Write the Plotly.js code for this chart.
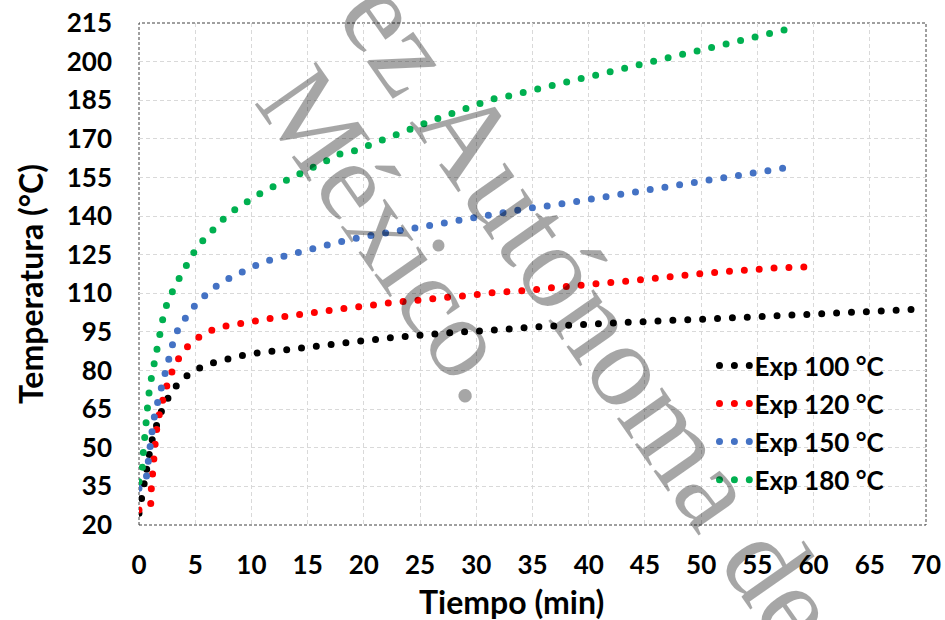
<!DOCTYPE html>
<html>
<head>
<meta charset="utf-8">
<script src="https://cdn.plot.ly/plotly-3.0.1.min.js"></script>
<style>
  html, body { margin: 0; padding: 0; background: #ffffff; }
  #chart { width: 945px; height: 620px; }
  /* round caps turn the zero-length dashes into round dots */
  path.js-line { stroke-linecap: round !important; }
</style>
</head>
<body>
<div id="chart"></div>
<script>
// Heating curves: time (min) and temperature (°C) for each experiment
const time100 = [0, 0.24, 0.51, 0.68, 0.86, 1.07, 1.42, 1.84, 2.37, 3.0, 3.85, 4.92, 6.11, 7.36, 8.65, 9.93, 11.23, 12.54, 13.81, 15.12, 17.76, 20.4, 23.0, 25.64, 28.26, 30.93, 33.53, 36.17, 38.81, 41.45, 44.05, 46.72, 49.39, 52.03, 54.7, 57.34, 59.97, 62.64, 65.29, 67.95, 69.26];
const temp100 = [24.6, 29.8, 35.3, 40.6, 46.1, 51.6, 57.2, 62.6, 67.7, 72.5, 76.7, 80.0, 82.5, 84.1, 85.3, 86.5, 87.2, 88.1, 88.7, 89.4, 90.7, 91.8, 93.0, 94.1, 94.9, 95.5, 96.5, 97.2, 97.7, 98.4, 98.9, 99.4, 99.8, 100.3, 101.1, 101.9, 102.1, 102.9, 103.2, 103.4, 103.8];

const time120 = [0, 1.04, 1.07, 1.16, 1.25, 1.33, 1.51, 1.69, 1.96, 2.29, 2.7, 3.18, 3.85, 4.71, 5.81, 7.0, 8.24, 9.52, 10.76, 12.0, 13.28, 14.5, 15.8, 17.05, 18.32, 19.6, 20.84, 22.15, 23.45, 24.7, 25.97, 27.28, 28.55, 29.86, 31.13, 32.44, 33.71, 34.98, 36.29, 37.56, 38.87, 40.14, 41.45, 42.7, 44.05, 45.36, 46.63, 47.91, 49.16, 50.43, 51.74, 53.01, 54.32, 55.59, 56.9, 58.17, 59.48];
const temp120 = [25.8, 27.3, 32.8, 38.5, 44.1, 49.7, 55.3, 60.8, 66.3, 71.7, 77.0, 82.2, 87.0, 91.1, 94.4, 96.7, 97.7, 98.8, 99.8, 100.5, 101.2, 102.0, 102.9, 104.0, 104.2, 104.8, 105.8, 106.2, 106.8, 107.2, 107.8, 108.5, 108.7, 109.4, 110.1, 110.4, 110.9, 111.3, 112.0, 112.4, 113.0, 113.6, 113.9, 114.6, 115.0, 115.6, 116.3, 116.9, 117.1, 117.8, 118.3, 118.5, 119.2, 119.5, 120.0, 120.2, 120.2];

const time150 = [0, 0.62, 0.77, 0.89, 1.0, 1.25, 1.49, 1.81, 2.11, 2.4, 2.73, 3.09, 3.58, 4.3, 5.16, 6.11, 7.14, 8.3, 9.45, 10.65, 11.89, 13.16, 14.47, 15.74, 17.05, 18.32, 19.66, 20.96, 22.24, 23.54, 24.84, 26.15, 27.46, 28.76, 30.09, 31.4, 32.7, 34.0, 35.31, 36.65, 37.95, 39.29, 40.59, 41.89, 43.23, 44.54, 45.87, 47.17, 48.5, 49.81, 51.14, 52.45, 53.75, 55.06, 56.39, 57.72];
const temp150 = [34.3, 37.2, 42.7, 48.4, 53.9, 59.4, 64.8, 70.3, 75.7, 81.1, 86.6, 91.9, 97.2, 101.9, 106.3, 110.1, 113.7, 116.5, 119.2, 121.3, 123.3, 124.8, 126.6, 127.9, 129.1, 130.5, 131.7, 132.7, 133.8, 134.7, 135.7, 136.7, 137.9, 138.7, 139.7, 140.8, 141.7, 142.4, 143.5, 144.1, 145.0, 145.8, 146.7, 147.6, 148.5, 149.4, 150.5, 151.3, 152.3, 153.2, 154.1, 155.0, 155.9, 156.9, 157.9, 158.9];

const time180 = [0, 0.29, 0.36, 0.44, 0.53, 0.68, 0.83, 1.0, 1.22, 1.42, 1.66, 1.93, 2.22, 2.61, 3.14, 3.8, 4.42, 5.07, 5.87, 6.7, 7.62, 8.65, 9.69, 10.85, 11.98, 13.14, 14.32, 15.5, 16.7, 17.88, 19.12, 20.34, 21.52, 22.8, 24.01, 25.29, 26.51, 27.75, 29.0, 30.27, 31.51, 32.82, 34.13, 35.4, 36.71, 38.0, 39.29, 40.56, 41.87, 43.16, 44.47, 45.78, 47.08, 48.36, 49.66, 50.97, 52.27, 53.57, 54.85, 56.15, 57.43];
const temp180 = [36.8, 41.4, 47.0, 52.5, 58.1, 63.6, 69.2, 74.8, 80.2, 85.8, 91.2, 96.7, 102.3, 107.5, 112.6, 117.7, 122.3, 127.3, 131.4, 135.4, 139.4, 142.9, 146.0, 149.0, 151.5, 153.8, 156.5, 159.0, 161.5, 164.1, 165.3, 167.3, 169.4, 171.5, 173.5, 175.7, 177.8, 179.7, 181.8, 183.7, 185.5, 186.6, 188.0, 189.3, 190.6, 192.1, 193.5, 194.8, 196.2, 197.5, 198.8, 200.2, 201.5, 203.0, 204.2, 205.5, 207.0, 208.2, 209.6, 211.0, 212.3];

const seriesNames = ['Exp 100 °C', 'Exp 120 °C', 'Exp 150 °C', 'Exp 180 °C'];
const seriesColors = ['#000000', '#FF0000', '#4472C4', '#00B050'];
const xTicks = [0, 5, 10, 15, 20, 25, 30, 35, 40, 45, 50, 55, 60, 65, 70];
const yTicks = [20, 35, 50, 65, 80, 95, 110, 125, 140, 155, 170, 185, 200, 215];

const times = [time100, time120, time150, time180];
const temps = [temp100, temp120, temp150, temp180];

const FONT = 'Lato, "Open Sans", "Liberation Sans", sans-serif';
const SERIF = '"Liberation Serif", "DejaVu Serif", serif';

const traces = seriesNames.map((name, i) => ({
  type: 'scatter',
  mode: 'lines',
  name: name,
  legendgroup: 'g' + i,
  x: times[i],
  y: temps[i],
  line: { color: seriesColors[i], width: 7, dash: '0px,14.9px' },
  hoverinfo: 'skip'
}));

const axisCommon = {
  showgrid: true,
  gridcolor: '#d9d9d9',
  gridwidth: 1,
  griddash: '4px,3px',
  zeroline: false,
  showline: false,
  ticks: '',
  tickfont: { family: FONT, size: 26, color: '#000000', weight: 700 },
  fixedrange: true
};

const layout = {
  width: 945,
  height: 620,
  margin: { l: 139, r: 19, t: 23, b: 95, pad: 0 },
  paper_bgcolor: '#ffffff',
  plot_bgcolor: '#ffffff',
  showlegend: true,
  xaxis: Object.assign({}, axisCommon, {
    range: [0, 70],
    tickvals: xTicks,
    ticktext: xTicks.map(String),
    ticklabelstandoff: 22
  }),
  yaxis: Object.assign({}, axisCommon, {
    range: [20, 215],
    tickvals: yTicks,
    ticktext: yTicks.map(String),
    ticklabelstandoff: 26
  }),
  legend: {
    x: (714.5 - 139) / 787,
    xanchor: 'left',
    y: (525 - 342) / 502,
    yanchor: 'top',
    bgcolor: 'rgba(0,0,0,0)',
    borderwidth: 0,
    traceorder: 'grouped',
    tracegroupgap: 1.3,
    font: { family: FONT, size: 26, color: '#000000', weight: 700 },
    itemclick: false,
    itemdoubleclick: false
  },
  shapes: [{
    type: 'rect', xref: 'paper', yref: 'paper',
    x0: 0, x1: 1, y0: 0, y1: 1,
    layer: 'between',
    line: { color: '#404040', width: 1, dash: '3px,2px' }
  }],
  annotations: [
    {
      text: 'Temperatura (°C)', xref: 'paper', yref: 'paper',
      x: (30 - 139) / 787, y: (525 - 284) / 502,
      xanchor: 'center', yanchor: 'middle', textangle: -90, showarrow: false,
      font: { family: FONT, size: 32, color: '#000000', weight: 700 }
    },
    {
      text: 'Tiempo (min)', xref: 'paper', yref: 'paper',
      x: (511 - 139) / 787, y: (525 - 601) / 502,
      xanchor: 'center', yanchor: 'middle', showarrow: false,
      font: { family: FONT, size: 32, color: '#000000', weight: 700 }
    },
    {
      text: 'ez Autónoma de', xref: 'paper', yref: 'paper',
      x: (591 - 139) / 787, y: (525 - 312) / 502,
      xanchor: 'center', yanchor: 'middle', textangle: 55, showarrow: false,
      font: { family: SERIF, size: 120, color: 'rgba(0,0,0,0.35)' }
    },
    {
      text: 'México.', xref: 'paper', yref: 'paper',
      x: (392 - 139) / 787, y: (525 - 234) / 502,
      xanchor: 'center', yanchor: 'middle', textangle: 55, showarrow: false,
      font: { family: SERIF, size: 114, color: 'rgba(0,0,0,0.35)' }
    }
  ]
};

Plotly.newPlot('chart', traces, layout, { staticPlot: true, displayModeBar: false });
</script>
</body>
</html>
